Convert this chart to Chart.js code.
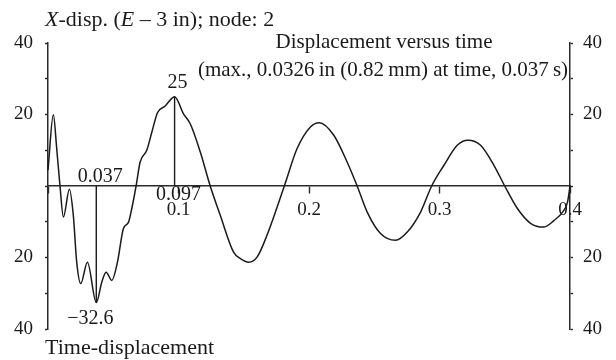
<!DOCTYPE html>
<html>
<head>
<meta charset="utf-8">
<title>Time-displacement</title>
<script src="https://cdn.jsdelivr.net/npm/chart.js@4/dist/chart.umd.min.js"></script>
<style>
  html, body { margin: 0; padding: 0; background: #fff; }
  #wrap { width: 616px; height: 360px; position: relative; }
</style>
</head>
<body>
<div id="wrap"><canvas id="chart" width="616" height="360"></canvas></div>
<script>
// Time (s) of each sample of the X-displacement record at node 2
const times = [
  0, 0.0041, 0.0067, 0.0092, 0.0118, 0.0164, 0.0194, 0.022, 0.0251, 0.0302,
  0.037, 0.0412, 0.0445, 0.0489, 0.0532, 0.0578, 0.0617, 0.0642, 0.0675, 0.0706,
  0.0757, 0.0796, 0.0839, 0.0898, 0.0924, 0.097, 0.1038, 0.109, 0.1167, 0.1243,
  0.132, 0.1422, 0.1474, 0.1537, 0.1602, 0.1678, 0.1811, 0.1908, 0.2011, 0.2078,
  0.219, 0.2292, 0.2369, 0.2446, 0.2548, 0.2663, 0.2753, 0.2855, 0.294, 0.3034,
  0.3136, 0.3218, 0.3315, 0.3417, 0.35, 0.3597, 0.37, 0.3797, 0.3879, 0.3943,
  0.3981, 0.4
];
// X-displacement (E-3 in) at each of those times
const displacement = [
  4.4, 19.9, 10.4, 0, -8.7, -0.9, -8.2, -21.3, -27.3, -21.3,
  -32.6, -26.9, -24.1, -26.4, -21.3, -11.9, -10.1, -6.3, 0, 6.7,
  10.0, 15.1, 20.5, 22.4, 23.5, 25, 20.2, 17.4, 9.5, 0,
  -8.2, -18.5, -20.3, -21.3, -19.9, -13.8, 0, 10.4, 16.5, 17.7,
  14.2, 6.7, 0, -7.3, -13.3, -15.2, -12.9, -7.3, 0, 5.8,
  11.4, 12.8, 11.4, 5.8, 0, -6.3, -10.5, -11.5, -9.6, -7.3,
  -4.5, 0
];

// Marked extremes
const minTime = 0.037, minValue = -32.6;
const maxTime = 0.097, maxValue = 25;

// Axis ticks and their labels
const xTickValues = [0, 0.1, 0.2, 0.3, 0.4];
const xTickLabels = ['', '0.1', '0.2', '0.3', '0.4'];
const yTickValues = [-40, -30, -20, -10, 0, 10, 20, 30, 40];
const yTickLabels = ['40', '', '20', '', '', '', '20', '', '40'];

const INK = '#1a1a1a';
const AXIS = '#2a2a2a';
const SERIF = '"Liberation Serif", "Times New Roman", serif';

const points = times.map((t, i) => ({ x: t, y: displacement[i] }));

function fixedTicks(values) {
  return scale => { scale.ticks = values.map(v => ({ value: v })); };
}
function labelFrom(values, labels) {
  return v => {
    const i = values.findIndex(u => Math.abs(u - v) < 1e-9);
    return i < 0 ? '' : labels[i];
  };
}

// Draws a run of text pieces, some italic, starting at (x, y)
function drawRuns(ctx, runs, x, y, size) {
  let cx = x;
  runs.forEach(([txt, italic]) => {
    ctx.font = (italic ? 'italic ' : '') + size + 'px ' + SERIF;
    ctx.fillText(txt, cx, y);
    cx += ctx.measureText(txt).width;
  });
}

const annotations = {
  id: 'annotations',
  afterDraw(chart) {
    const { ctx, scales } = chart;
    const xs = scales.x, ys = scales.y;
    ctx.save();
    ctx.fillStyle = INK;
    ctx.textBaseline = 'alphabetic';

    // Titles
    ctx.textAlign = 'left';
    drawRuns(ctx, [['X', true], ['-disp. (', false], ['E', true], [' \u2013 3 in); node: 2', false]], 45, 26, 22);
    drawRuns(ctx, [['Time-displacement', false]], 45, 354, 22);
    ctx.font = '21px ' + SERIF;
    ctx.textAlign = 'center';
    ctx.fillText('Displacement versus time', 384, 48);
    ctx.fillText('(max., 0.0326\u2009in (0.82\u2009mm) at time, 0.037\u2009s)', 383, 76);

    // Value labels at the marked extremes
    ctx.font = '20px ' + SERIF;
    const zeroY = ys.getPixelForValue(0);
    const pMinX = xs.getPixelForValue(minTime), pMinY = ys.getPixelForValue(minValue);
    const pMaxX = xs.getPixelForValue(maxTime), pMaxY = ys.getPixelForValue(maxValue);
    ctx.fillText(String(minTime), pMinX + 4, zeroY - 4);
    ctx.fillText('\u2212' + Math.abs(minValue), pMinX - 6, pMinY + 21);
    ctx.fillText(String(maxValue), pMaxX + 3, pMaxY - 9);
    ctx.fillText(String(maxTime), pMaxX + 4, zeroY + 14);
    ctx.restore();
  }
};

new Chart(document.getElementById('chart'), {
  type: 'scatter',
  data: {
    datasets: [
      {
        data: points,
        showLine: true,
        borderColor: INK,
        borderWidth: 1.5,
        pointRadius: 0,
        cubicInterpolationMode: 'monotone',
        clip: false
      },
      {
        data: [{ x: minTime, y: 0 }, { x: minTime, y: minValue }],
        showLine: true, borderColor: INK, borderWidth: 1.4, pointRadius: 0
      },
      {
        data: [{ x: maxTime, y: 0 }, { x: maxTime, y: maxValue }],
        showLine: true, borderColor: INK, borderWidth: 1.4, pointRadius: 0
      }
    ]
  },
  options: {
    responsive: false,
    animation: false,
    devicePixelRatio: 1,
    layout: { padding: { top: 43, bottom: 31, left: 0, right: 0 } },
    plugins: { legend: { display: false }, tooltip: { enabled: false }, title: { display: false } },
    scales: {
      x: {
        type: 'linear',
        position: { y: 0 },
        min: 0, max: 0.4,
        afterBuildTicks: fixedTicks(xTickValues),
        ticks: {
          autoSkip: false, maxRotation: 0, padding: 6, color: INK,
          font: { family: SERIF, size: 19 },
          callback: labelFrom(xTickValues, xTickLabels)
        },
        grid: { drawOnChartArea: false, drawTicks: true, tickLength: 7, tickColor: AXIS, tickWidth: 1.4 },
        border: { display: true, color: AXIS, width: 1.5 }
      },
      y: {
        type: 'linear',
        position: 'left',
        min: -40, max: 40,
        afterBuildTicks: fixedTicks(yTickValues),
        afterFit: s => { s.width = 48; },
        ticks: {
          autoSkip: false, padding: 12, color: INK,
          font: { family: SERIF, size: 19 },
          callback: labelFrom(yTickValues, yTickLabels)
        },
        grid: { drawOnChartArea: false, drawTicks: true, tickLength: 3, tickColor: AXIS, tickWidth: 1.4 },
        border: { display: true, color: AXIS, width: 1.5 }
      },
      y2: {
        type: 'linear',
        position: 'right',
        display: true,
        min: -40, max: 40,
        afterBuildTicks: fixedTicks(yTickValues),
        afterFit: s => { s.width = 46; },
        ticks: {
          autoSkip: false, padding: 10, color: INK,
          font: { family: SERIF, size: 19 },
          callback: labelFrom(yTickValues, yTickLabels)
        },
        grid: { drawOnChartArea: false, drawTicks: true, tickLength: 3, tickColor: AXIS, tickWidth: 1.4 },
        border: { display: true, color: AXIS, width: 1.5 }
      }
    }
  },
  plugins: [annotations]
});
</script>
</body>
</html>
